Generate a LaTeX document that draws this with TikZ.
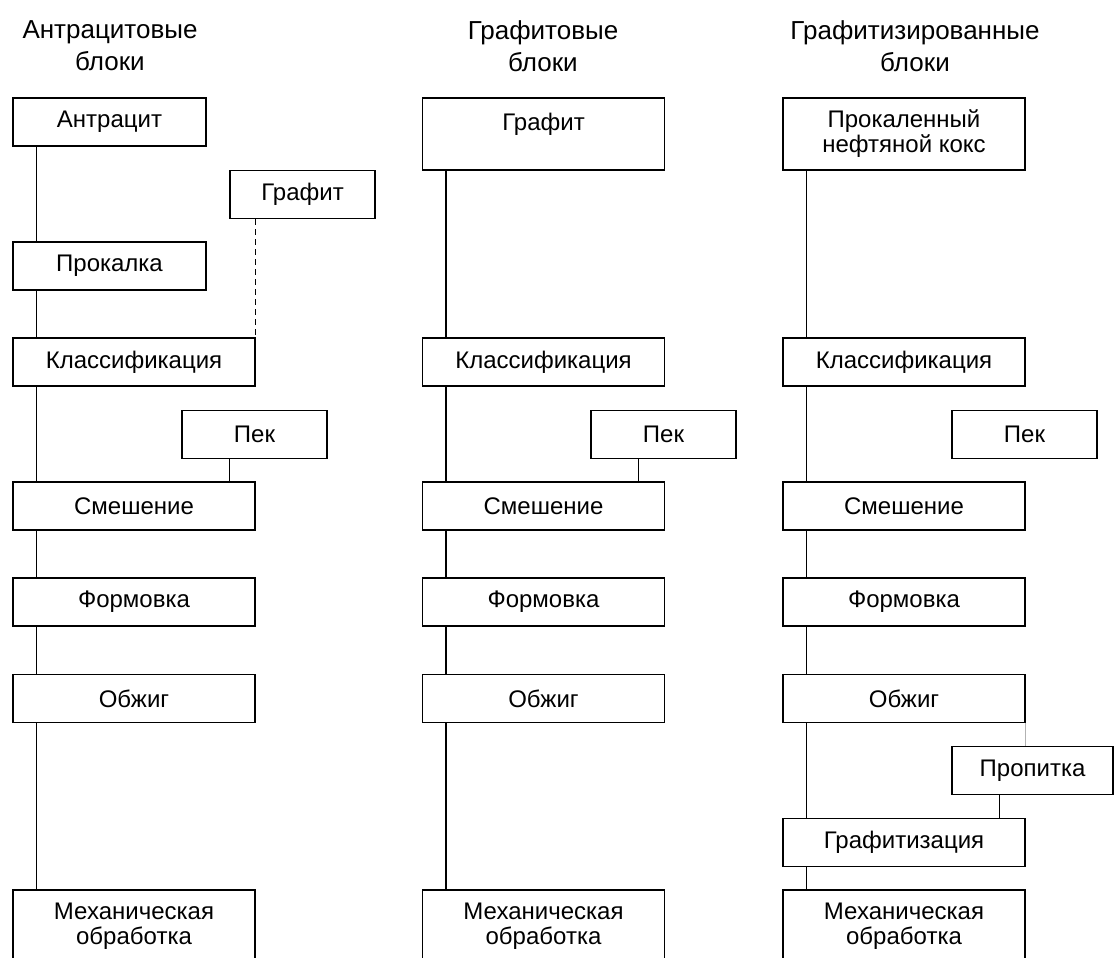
\documentclass[tikz,border=0pt]{standalone}
\usepackage{fontspec}
\setmainfont{Liberation Sans}

\begin{document}
\begin{tikzpicture}[x=0.5pt, y=-0.5pt, line width=0.6pt,
		box/.style={draw, inner sep=0pt, minimum width=121pt, minimum height=24pt, align=center, font=\fontsize{12}{12.5}\selectfont},
		small/.style={box, minimum width=72.5pt},
		tall/.style={box, minimum height=36pt},
		title/.style={align=center, font=\fontsize{13}{16}\selectfont}]
		\useasboundingbox (0, 0) rectangle (1114, 958);
		% column headings
		\node[title] (t1) at (110, 46) {Антрацитовые\\блоки};
		\node[title] (t2) at (543, 46) {Графитовые\\блоки};
		\node[title] (t3) at (915, 46) {Графитизированные\\блоки};
		% boxes common to all three columns
		\foreach \c/\x in {1/134, 2/543.5, 3/904} {
			\node[box] (klass\c) at (\x, 362) {Классификация};
			\node[box] (smesh\c) at (\x, 506) {Смешение};
			\node[box] (form\c) at (\x, 602) {Формовка};
			\node[box] (obzh\c) at (\x, 698.5) {Обжиг};
			\node[tall] (mech\c) at (\x, 926) {Механическая\\обработка};
		}
		% first column
		\node[box, minimum width=96.5pt] (antr) at (109.5, 122) {Антрацит};
		\node[small] (graf1) at (302.5, 194.5) {Графит};
		\node[box, minimum width=96.5pt] (prok) at (109.5, 266) {Прокалка};
		\node[small] (pek1) at (254.5, 434.5) {Пек};
		% second column
		\node[tall] (graf2) at (543.5, 134) {Графит\\\mbox{}};
		\node[small] (pek2) at (663.5, 434.5) {Пек};
		% third column
		\node[tall] (koks) at (904, 134) {Прокаленный\\нефтяной кокс};
		\node[small] (pek3) at (1024.5, 434.5) {Пек};
		\node[box, minimum width=80.5pt] (prop) at (1032.5, 770.5) {Пропитка};
		\node[box] (graph3) at (904, 842.5) {Графитизация};
		% main lines
		\foreach \a/\b in {antr/prok, prok/klass1, klass1/smesh1, smesh1/form1, form1/obzh1, obzh1/mech1,
				graf2/klass2, klass2/smesh2, smesh2/form2, form2/obzh2, obzh2/mech2,
				koks/klass3, klass3/smesh3, smesh3/form3, form3/obzh3, obzh3/graph3, graph3/mech3}
			\draw ([xshift=12pt]\a.south west) -- ([xshift=12pt]\a.south west |- \b.north);
		% side lines
		\draw[dash pattern=on 3pt off 2pt] (graf1.south -| klass1.north east) -- (klass1.north east);
		\draw ([xshift=24pt]pek1.south west) -- ([xshift=24pt]pek1.south west |- smesh1.north);
		\draw ([xshift=24pt]pek2.south west) -- ([xshift=24pt]pek2.south west |- smesh2.north);
		\draw[gray!60, line width=0.4pt] (obzh3.south east) -- (obzh3.south east |- prop.north);
		\draw ([xshift=24pt]prop.south west) -- ([xshift=24pt]prop.south west |- graph3.north);
	\end{tikzpicture}
\end{document}
